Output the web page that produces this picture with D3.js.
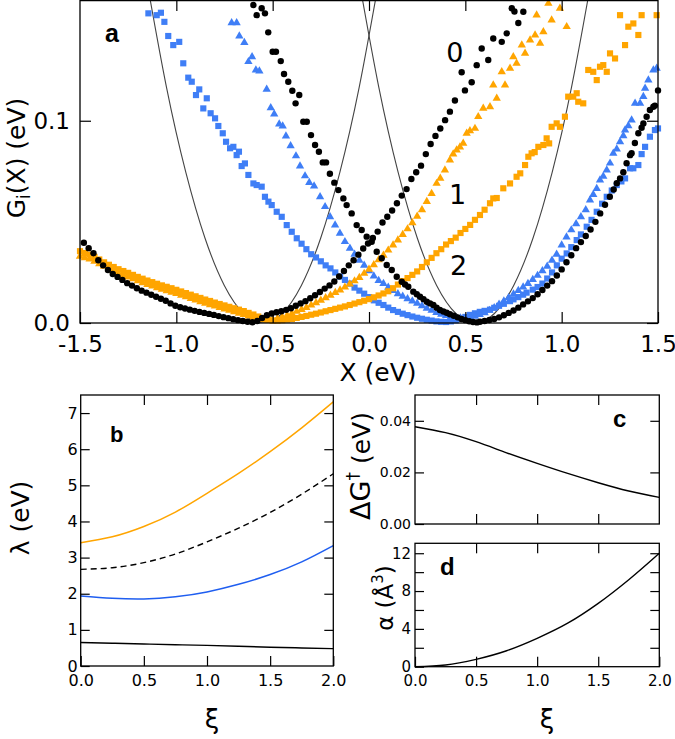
<!DOCTYPE html>
<html><head><meta charset="utf-8">
<script src="https://cdn.jsdelivr.net/npm/d3@7"></script>
<style>body{margin:0;background:#fff}svg{display:block}</style>
</head><body><svg id="chart" width="675" height="739"></svg>
<script>
// ---------- Panel a data: G_i(X) in eV ----------
const blackG1 = [[-1.48,.0397],[-1.455,.0370],[-1.43,.0345],[-1.405,.0310],[-1.38,.0285],[-1.355,.0262],[-1.33,.0242],[-1.305,.0228],[-1.28,.0213],[-1.255,.0197],[-1.23,.0185],[-1.205,.0172],[-1.18,.0160],[-1.155,.0150],[-1.13,.0140],[-1.105,.0130],[-1.08,.0120],[-1.055,.0110],[-1.03,.0097],[-1.005,.0085],[-0.98,.0078],[-0.955,.0072],[-0.93,.0066],[-0.905,.0060],[-0.88,.0055],[-0.855,.0050],[-0.83,.0045],[-0.805,.0040],[-0.78,.0034],[-0.755,.0029],[-0.73,.0024],[-0.705,.0019],[-0.68,.0014],[-0.655,.0010],[-0.63,.0006],[-0.605,.0004],[-0.58,.0010],[-0.555,.0025],[-0.53,.0038],[-0.505,.0047],[-0.48,.0053],[-0.455,.0058],[-0.43,.0065],[-0.405,.0073],[-0.38,.0085],[-0.355,.0097],[-0.33,.0108],[-0.305,.0122],[-0.28,.0137],[-0.255,.0153],[-0.23,.0170],[-0.205,.0186],[-0.18,.0205],[-0.155,.0230],[-0.13,.0257],[-0.105,.0285],[-0.08,.0310],[-0.055,.0338],[-0.03,.0368],[-0.005,.0393],[0.02,.0420],[0.045,.0452],[0.07,.0497],[0.095,.0525],[0.12,.0556],[0.145,.0592],[0.17,.0630],[0.195,.0662],[0.22,.0712],[0.245,.0745],[0.27,.0778],[0.295,.0835],[0.32,.0885],[0.345,.0925],[0.37,.0962],[0.395,.1003],[0.42,.1045],[0.446,.1100],[0.481,.1240],[0.498,.1150],[0.533,.1190],[0.559,.1275],[0.585,.1357],[0.619,.1300],[0.645,.1407],[0.689,.1390],[0.715,.1432],[0.741,.1556],[0.755,.1540],[0.775,.1483],[0.801,.1539]];

const blackG2 = [[-0.600,.1572],[-0.583,.1522],[-0.557,.1556],[-0.540,.1531],[-0.523,.1437],[-0.500,.1341],[-0.483,.1341],[-0.458,.1295],[-0.441,.1231],[-0.419,.1193],[-0.398,.1148],[-0.381,.1086],[-0.362,.1127],[-0.341,.0995],[-0.323,.0995],[-0.301,.0929],[-0.280,.0880],[-0.260,.0847],[-0.240,.0794],[-0.223,.0794],[-0.203,.0738],[-0.180,.0694],[-0.159,.0657],[-0.133,.0616],[-0.116,.0583],[-0.090,.0542],[-0.064,.0484],[-0.038,.0460],[-0.012,.0427],[0.014,.0402],[0.040,.0352],[0.066,.0320],[0.092,.0287],[0.118,.0262],[0.144,.0229],[0.170,.0204],[0.187,.0190],[0.204,.0179],[0.230,.0155],[0.248,.0142],[0.265,.0130],[0.283,.0118],[0.300,.0105],[0.317,.0097],[0.334,.0089],[0.351,.0076],[0.368,.0064],[0.386,.0057],[0.403,.0051],[0.42,.0043],[0.44,.0036],[0.46,.0028],[0.48,.0020],[0.50,.0014],[0.52,.0009],[0.54,.0005],[0.56,.0003],[0.576,.0006],[0.60,.0010],[0.625,.0015],[0.65,.0020],[0.675,.0028],[0.70,.0038],[0.725,.0050],[0.75,.0062],[0.775,.0076],[0.80,.0092],[0.825,.0107],[0.85,.0123],[0.875,.0142],[0.90,.0163],[0.925,.0185],[0.95,.0207],[0.975,.0235],[1.0,.0265],[1.025,.0300],[1.05,.0335],[1.075,.0370],[1.10,.0400],[1.125,.0430],[1.15,.0462],[1.175,.0500],[1.2,.0542],[1.225,.0585],[1.25,.0624],[1.27,.0660],[1.286,.0691],[1.303,.0715],[1.32,.0745],[1.337,.0790],[1.355,.0830],[1.363,.0839],[1.38,.0890],[1.398,.0938],[1.415,.0965],[1.424,.0987],[1.441,.1020],[1.458,.1053],[1.476,.1069],[1.484,.1075],[1.5,.1150]];

const orangeTri = [[-1.5,.0330],[-1.475,.0322],[-1.45,.0316],[-1.425,.0305],[-1.4,.0292],[-1.375,.0280],[-1.35,.0268],[-1.325,.0256],[-1.3,.0245],[-1.275,.0236],[-1.25,.0227],[-1.225,.0218],[-1.2,.0208],[-1.175,.0199],[-1.15,.0190],[-1.125,.0182],[-1.1,.0174],[-1.075,.0166],[-1.05,.0159],[-1.025,.0152],[-1.0,.0145],[-0.975,.0137],[-0.95,.0129],[-0.925,.0121],[-0.9,.0113],[-0.875,.0105],[-0.85,.0097],[-0.825,.0090],[-0.8,.0083],[-0.775,.0076],[-0.75,.0069],[-0.725,.0062],[-0.7,.0055],[-0.675,.0048],[-0.65,.0041],[-0.625,.0034],[-0.6,.0027],[-0.575,.0020],[-0.55,.0015],[-0.525,.0013],[-0.5,.0015],[-0.475,.0022],[-0.45,.0030],[-0.425,.0038],[-0.4,.0047],[-0.375,.0057],[-0.35,.0066],[-0.325,.0076],[-0.3,.0088],[-0.275,.0100],[-0.25,.0112],[-0.225,.0124],[-0.2,.0137],[-0.175,.0150],[-0.15,.0163],[-0.125,.0177],[-0.1,.0192],[-0.075,.0208],[-0.05,.0225],[-0.025,.0245],[0.0,.0265],[0.025,.0288],[0.05,.0312],[0.075,.0335],[0.1,.0360],[0.125,.0385],[0.15,.0410],[0.175,.0437],[0.2,.0465],[0.225,.0495],[0.25,.0527],[0.275,.0560],[0.3,.0600],[0.325,.0640],[0.351,.0690],[0.37,.0715],[0.394,.0756],[0.42,.0806],[0.437,.0835],[0.455,.0855],[0.472,.0870],[0.489,.0888],[0.507,.0938],[0.524,.0950],[0.550,.0962],[0.567,.1020],[0.593,.1061],[0.628,.1069],[0.645,.1176],[0.663,.1111],[0.689,.1242],[0.706,.1176],[0.732,.1259],[0.749,.1316],[0.766,.1284],[0.793,.1374],[0.810,.1333],[0.836,.1399],[0.862,.1424],[0.870,.1522],[0.888,.1383],[0.905,.1440],[0.931,.1580],[0.948,.1498],[0.991,.1556],[1.026,.1465]];

const orangeSq = [[-1.5,.0355],[-1.475,.0346],[-1.45,.0338],[-1.425,.0327],[-1.4,.0314],[-1.375,.0300],[-1.35,.0288],[-1.325,.0277],[-1.3,.0266],[-1.275,.0257],[-1.25,.0248],[-1.225,.0238],[-1.2,.0228],[-1.175,.0219],[-1.15,.0210],[-1.125,.0202],[-1.1,.0194],[-1.075,.0186],[-1.05,.0179],[-1.025,.0172],[-1.0,.0164],[-0.975,.0156],[-0.95,.0148],[-0.925,.0140],[-0.9,.0132],[-0.875,.0124],[-0.85,.0116],[-0.825,.0109],[-0.8,.0101],[-0.775,.0094],[-0.75,.0087],[-0.725,.0080],[-0.7,.0073],[-0.675,.0066],[-0.65,.0059],[-0.625,.0050],[-0.6,.0042],[-0.575,.0032],[-0.55,.0024],[-0.525,.0017],[-0.5,.0012],[-0.475,.0012],[-0.45,.0014],[-0.425,.0017],[-0.4,.0020],[-0.375,.0025],[-0.35,.0030],[-0.325,.0035],[-0.3,.0041],[-0.275,.0046],[-0.25,.0052],[-0.225,.0058],[-0.2,.0064],[-0.175,.0070],[-0.15,.0076],[-0.125,.0082],[-0.1,.0089],[-0.075,.0096],[-0.05,.0103],[-0.025,.0110],[0.0,.0118],[0.025,.0127],[0.05,.0136],[0.075,.0146],[0.1,.0157],[0.125,.0172],[0.15,.0190],[0.175,.0207],[0.2,.0222],[0.225,.0238],[0.25,.0255],[0.275,.0277],[0.3,.0300],[0.325,.0322],[0.35,.0345],[0.375,.0365],[0.4,.0388],[0.425,.0405],[0.45,.0422],[0.475,.0445],[0.5,.0465],[0.525,.0485],[0.55,.0510],[0.576,.0534],[0.6,.0560],[0.628,.0592],[0.645,.0616],[0.663,.0618],[0.697,.0666],[0.732,.0690],[0.766,.0723],[0.785,.0740],[0.810,.0781],[0.827,.0822],[0.844,.0839],[0.860,.0845],[0.879,.0871],[0.905,.0880],[0.922,.0913],[0.935,.0888],[0.948,.0970],[0.974,.0987],[0.991,.0970],[1.017,.1020],[1.034,.1119],[1.060,.1119],[1.078,.1136],[1.086,.1094],[1.112,.1086],[1.138,.1251],[1.164,.1242],[1.182,.1201],[1.199,.1267],[1.216,.1275],[1.234,.1242],[1.251,.1333],[1.277,.1308],[1.303,.1522],[1.329,.1374],[1.346,.1465],[1.372,.1481],[1.398,.1424],[1.415,.1522],[1.493,.1522]];

const blueTri = [[-0.713,.1484],[-0.687,.1484],[-0.673,.1419],[-0.647,.1387],[-0.626,.1292],[-0.607,.1316],[-0.587,.1251],[-0.569,.1246],[-0.531,.1155],[-0.510,.1064],[-0.492,.1033],[-0.466,.0984],[-0.448,.0974],[-0.431,.0924],[-0.407,.0876],[-0.379,.0826],[-0.358,.0776],[-0.332,.0727],[-0.310,.0694],[-0.285,.0677],[-0.254,.0624],[-0.228,.0575],[-0.202,.0525],[-0.176,.0484],[-0.151,.0443],[-0.125,.0402],[-0.099,.0369],[-0.075,.0340],[-0.05,.0310],[-0.025,.0285],[0.0,.0258],[0.025,.0232],[0.05,.0210],[0.075,.0195],[0.1,.0176],[0.125,.0160],[0.15,.0144],[0.175,.0132],[0.2,.0120],[0.225,.0108],[0.25,.0097],[0.275,.0085],[0.3,.0073],[0.325,.0062],[0.35,.0052],[0.375,.0043],[0.4,.0036],[0.425,.0030],[0.45,.0026],[0.475,.0024],[0.5,.0024],[0.525,.0027],[0.55,.0033],[0.575,.0041],[0.6,.0050],[0.625,.0062],[0.65,.0075],[0.675,.0092],[0.7,.0108],[0.725,.0125],[0.75,.0143],[0.775,.0160],[0.8,.0178],[0.825,.0195],[0.85,.0215],[0.875,.0235],[0.9,.0258],[0.925,.0280],[0.95,.0310],[0.974,.0340],[1.0,.0385],[1.025,.0425],[1.05,.0460],[1.075,.0490],[1.1,.0525],[1.125,.0560],[1.147,.0608],[1.164,.0635],[1.182,.0665],[1.199,.0707],[1.216,.0725],[1.234,.0756],[1.251,.0790],[1.268,.0839],[1.286,.0860],[1.303,.0896],[1.32,.0925],[1.329,.0954],[1.346,.0975],[1.363,.1003],[1.381,.1086],[1.407,.1086],[1.424,.1120],[1.433,.1160],[1.450,.1201],[1.476,.1251],[1.493,.1259]];

const blueSq = [[-1.145,.1531],[-1.102,.1522],[-1.080,.1534],[-1.062,.1489],[-1.042,.1419],[-1.016,.1374],[-0.985,.1390],[-0.964,.1284],[-0.938,.1213],[-0.920,.1193],[-0.898,.1127],[-0.881,.1155],[-0.860,.1061],[-0.842,.1111],[-0.822,.1037],[-0.799,.1012],[-0.782,.0974],[-0.759,.0938],[-0.742,.0896],[-0.721,.0864],[-0.704,.0871],[-0.687,.0830],[-0.675,.0847],[-0.661,.0776],[-0.644,.0789],[-0.626,.0732],[-0.600,.0690],[-0.583,.0682],[-0.557,.0674],[-0.540,.0624],[-0.522,.0600],[-0.505,.0583],[-0.479,.0550],[-0.453,.0525],[-0.427,.0484],[-0.401,.0451],[-0.375,.0419],[-0.35,.0392],[-0.325,.0365],[-0.3,.0340],[-0.275,.0324],[-0.25,.0305],[-0.225,.0285],[-0.2,.0270],[-0.175,.0250],[-0.15,.0230],[-0.125,.0213],[-0.1,.0195],[-0.075,.0175],[-0.05,.0160],[-0.025,.0145],[0.0,.0128],[0.025,.0112],[0.05,.0100],[0.075,.0089],[0.1,.0076],[0.125,.0064],[0.15,.0055],[0.175,.0046],[0.2,.0039],[0.225,.0032],[0.25,.0026],[0.275,.0021],[0.3,.0016],[0.325,.0012],[0.35,.0008],[0.375,.0006],[0.4,.0005],[0.425,.0008],[0.45,.0013],[0.475,.0021],[0.5,.0030],[0.524,.0040],[0.55,.0048],[0.575,.0055],[0.6,.0060],[0.628,.0066],[0.65,.0075],[0.675,.0085],[0.7,.0095],[0.732,.0108],[0.75,.0117],[0.775,.0128],[0.8,.0140],[0.818,.0150],[0.85,.0165],[0.875,.0178],[0.9,.0195],[0.925,.0220],[0.95,.0250],[0.975,.0285],[1.0,.0318],[1.026,.0344],[1.05,.0375],[1.078,.0410],[1.1,.0438],[1.13,.0476],[1.155,.0510],[1.182,.0550],[1.21,.0590],[1.234,.0624],[1.26,.0655],[1.286,.0682],[1.31,.0700],[1.329,.0715],[1.355,.0765],[1.372,.0765],[1.398,.0781],[1.415,.0835],[1.433,.0871],[1.458,.0921],[1.484,.0954],[1.5,.0962]];

// thin model parabolas
const parabolaLeft = [[-1.151,.168],[-1.051,.1165],[-0.951,.0746],[-0.851,.0419],[-0.751,.0186],[-0.651,.0047],[-0.551,0],[-0.451,.0047],[-0.351,.0186],[-0.251,.0419],[-0.151,.0746],[-0.051,.1165],[0.049,.168]];
const parabolaRight = [[-0.049,.168],[0.051,.1165],[0.151,.0746],[0.251,.0419],[0.351,.0186],[0.451,.0047],[0.551,0],[0.651,.0047],[0.751,.0186],[0.851,.0419],[0.951,.0746],[1.051,.1165],[1.151,.168]];

const xTicksA = [-1.5,-1.0,-0.5,0.0,0.5,1.0,1.5];
const yTicksA = [0.0,0.1];
const curveLabels = [["0",0.445,0.129],["1",0.46,0.059],["2",0.465,0.0237]];

// ---------- Panels b, c, d data ----------
const xi = [0,0.25,0.5,0.75,1.0,1.25,1.5,1.75,2.0];
const lambdaOrange = [3.41,3.575,3.86,4.26,4.78,5.33,5.93,6.59,7.31];
const lambdaDashed = [2.675,2.72,2.86,3.10,3.435,3.815,4.25,4.755,5.32];
const lambdaBlue   = [1.94,1.875,1.855,1.915,2.05,2.26,2.53,2.88,3.33];
const lambdaBlack  = [0.65,0.63,0.61,0.59,0.57,0.545,0.52,0.50,0.48];
const dGbarrier    = [0.0377,0.0354,0.0319,0.0276,0.0235,0.0196,0.0160,0.0128,0.0103];
const alphaPol     = [0,0.18,0.78,1.69,3.0,4.6,6.7,9.2,12.0];
const xTicksXi = [0,0.5,1.0,1.5,2.0];

// ---------- drawing ----------
const svg = d3.select("#chart");
const FONT = "DejaVu Sans, Verdana, sans-serif";
const BOLD = "Liberation Sans, Arial, sans-serif";

function styleAxis(g, fs){
  g.select(".domain").remove();
  g.attr("font-family", FONT).attr("font-size", fs);
  g.selectAll(".tick line").attr("stroke","#000").attr("stroke-width",1.2);
  g.selectAll(".tick text").attr("fill","#000");
}
function frame(x0,y0,x1,y1){
  svg.append("rect").attr("x",x0).attr("y",y0).attr("width",x1-x0).attr("height",y1-y0)
    .attr("fill","none").attr("stroke","#000").attr("stroke-width",1.3);
}

// Panel a
const xA = d3.scaleLinear().domain([-1.5,1.5]).range([80,658]);
const yA = d3.scaleLinear().domain([0,0.1597]).range([323,0]);
const fmt1 = d => d.toFixed(1);

svg.append("defs").append("clipPath").attr("id","clipA")
  .append("rect").attr("x",80).attr("y",0).attr("width",578).attr("height",323);

const lineA = d3.line().x(d=>xA(d[0])).y(d=>yA(d[1])).curve(d3.curveNatural);
[parabolaLeft, parabolaRight].forEach(p=>{
  svg.append("path").attr("d", lineA(p)).attr("fill","none")
    .attr("stroke","#444").attr("stroke-width",1.1).attr("clip-path","url(#clipA)");
});

const BLUE = "#3f7ef6", ORANGE = "#ffa500";
function squares(data, color){
  svg.append("g").selectAll("path").data(data).join("path")
    .attr("d", d3.symbol(d3.symbolSquare, 38))
    .attr("transform", d=>`translate(${xA(d[0])},${yA(d[1])})`).attr("fill", color);
}
function triangles(data, color){
  svg.append("g").selectAll("path").data(data).join("path")
    .attr("d", d3.symbol(d3.symbolTriangle, 30))
    .attr("transform", d=>`translate(${xA(d[0])},${yA(d[1])})`).attr("fill", color);
}
function circles(data, color){
  svg.append("g").selectAll("circle").data(data).join("circle")
    .attr("cx", d=>xA(d[0])).attr("cy", d=>yA(d[1])).attr("r",3.2).attr("fill", color);
}
squares(blueSq, BLUE);
triangles(blueTri, BLUE);
squares(orangeSq, ORANGE);
triangles(orangeTri, ORANGE);
circles(blackG1, "#000");
circles(blackG2, "#000");

frame(80,0.6,658,323);
svg.append("g").attr("transform","translate(0,323)")
  .call(d3.axisBottom(xA).tickValues(xTicksA).tickSize(-11).tickPadding(13).tickFormat(fmt1))
  .call(g=>styleAxis(g,23));
svg.append("g").attr("transform","translate(0,0)")
  .call(d3.axisTop(xA).tickValues(xTicksA.slice(1,-1)).tickSize(-11).tickFormat(""))
  .call(g=>styleAxis(g,23));
svg.append("g").attr("transform","translate(80,0)")
  .call(d3.axisLeft(yA).tickValues(yTicksA).tickSize(-11).tickPadding(10).tickFormat(fmt1))
  .call(g=>styleAxis(g,23));
svg.append("g").attr("transform","translate(658,0)")
  .call(d3.axisRight(yA).tickValues(yTicksA).tickSize(-11).tickFormat(""))
  .call(g=>styleAxis(g,23));

svg.append("text").attr("x",378).attr("y",381).attr("text-anchor","middle")
  .attr("font-family",FONT).attr("font-size",25).text("X (eV)");
const gy = svg.append("text").attr("transform","translate(25,158) rotate(-90)")
  .attr("text-anchor","middle").attr("font-family",FONT).attr("font-size",25);
gy.append("tspan").text("G");
gy.append("tspan").attr("dy",5).attr("font-size",17).text("i");
gy.append("tspan").attr("dy",-5).text("(X) (eV)");

svg.selectAll("text.cl").data(curveLabels).join("text").attr("class","cl")
  .attr("x",d=>xA(d[1])).attr("y",d=>yA(d[2])).attr("text-anchor","middle")
  .attr("font-family",FONT).attr("font-size",27).text(d=>d[0]);
svg.append("text").attr("x",105).attr("y",42).attr("font-family",BOLD)
  .attr("font-weight","bold").attr("font-size",25).text("a");

// Panel b
const xB = d3.scaleLinear().domain([0,2]).range([80.7,333.3]);
const yB = d3.scaleLinear().domain([0,7.5]).range([666,395]);
const lineB = (ys)=> d3.line().x((d,i)=>xB(xi[i])).y(d=>yB(d)).curve(d3.curveNatural)(ys);
svg.append("path").attr("d",lineB(lambdaOrange)).attr("fill","none").attr("stroke",ORANGE).attr("stroke-width",1.5);
svg.append("path").attr("d",lineB(lambdaDashed)).attr("fill","none").attr("stroke","#000").attr("stroke-width",1.4).attr("stroke-dasharray","6,4");
svg.append("path").attr("d",lineB(lambdaBlue)).attr("fill","none").attr("stroke","#1f5ef0").attr("stroke-width",1.5);
svg.append("path").attr("d",lineB(lambdaBlack)).attr("fill","none").attr("stroke","#000").attr("stroke-width",1.4);
frame(80.7,395,333.3,666);
svg.append("g").attr("transform","translate(0,666)")
  .call(d3.axisBottom(xB).tickValues(xTicksXi).tickSize(-10).tickPadding(9).tickFormat(fmt1))
  .call(g=>styleAxis(g,16));
svg.append("g").attr("transform","translate(0,395)")
  .call(d3.axisTop(xB).tickValues([0.5,1,1.5]).tickSize(-10).tickFormat(""))
  .call(g=>styleAxis(g,16));
svg.append("g").attr("transform","translate(80.7,0)")
  .call(d3.axisLeft(yB).tickValues([0,1,2,3,4,5,6,7]).tickSize(-9).tickPadding(3).tickFormat(d3.format("d")))
  .call(g=>styleAxis(g,16));
svg.append("g").attr("transform","translate(333.3,0)")
  .call(d3.axisRight(yB).tickValues([1,2,3,4,5,6,7]).tickSize(-9).tickFormat(""))
  .call(g=>styleAxis(g,16));
svg.append("text").attr("transform","translate(29,518) rotate(-90)").attr("text-anchor","middle")
  .attr("font-family",FONT).attr("font-size",25).text("λ (eV)");
svg.append("text").attr("x",212).attr("y",728).attr("text-anchor","middle")
  .attr("font-family",FONT).attr("font-size",26).text("ξ");
svg.append("text").attr("x",110).attr("y",442).attr("font-family",BOLD)
  .attr("font-weight","bold").attr("font-size",22).text("b");

// Panel c
const xC = d3.scaleLinear().domain([0,2]).range([415,659.3]);
const yC = d3.scaleLinear().domain([0,0.05]).range([524,395]);
svg.append("path").attr("d", d3.line().x((d,i)=>xC(xi[i])).y(d=>yC(d)).curve(d3.curveNatural)(dGbarrier))
  .attr("fill","none").attr("stroke","#000").attr("stroke-width",1.4);
frame(415,395,659.3,524);
svg.append("g").attr("transform","translate(0,524)")
  .call(d3.axisBottom(xC).tickValues([0.5,1,1.5]).tickSize(-10).tickFormat(""))
  .call(g=>styleAxis(g,14));
svg.append("g").attr("transform","translate(0,395)")
  .call(d3.axisTop(xC).tickValues([0.5,1,1.5]).tickSize(-10).tickFormat(""))
  .call(g=>styleAxis(g,14));
svg.append("g").attr("transform","translate(415,0)")
  .call(d3.axisLeft(yC).tickValues([0,0.02,0.04]).tickSize(-9).tickPadding(4).tickFormat(d3.format(".2f")))
  .call(g=>styleAxis(g,14));
svg.append("g").attr("transform","translate(659.3,0)")
  .call(d3.axisRight(yC).tickValues([0.02,0.04]).tickSize(-9).tickFormat(""))
  .call(g=>styleAxis(g,14));
const cy = svg.append("text").attr("transform","translate(370,466) rotate(-90)")
  .attr("text-anchor","middle").attr("font-family",FONT).attr("font-size",25);
cy.append("tspan").attr("font-size",27).text("ΔG");
cy.append("tspan").attr("dy",-11).attr("font-size",17).text("†");
cy.append("tspan").attr("dy",11).text(" (eV)");
svg.append("text").attr("x",613).attr("y",427).attr("font-family",BOLD)
  .attr("font-weight","bold").attr("font-size",24).text("c");

// Panel d
const yD = d3.scaleLinear().domain([0,13.05]).range([666.7,543.3]);
svg.append("path").attr("d", d3.line().x((d,i)=>xC(xi[i])).y(d=>yD(d)).curve(d3.curveMonotoneX)(alphaPol))
  .attr("fill","none").attr("stroke","#000").attr("stroke-width",1.4);
frame(415,543.3,659.3,666.7);
svg.append("g").attr("transform","translate(0,666.7)")
  .call(d3.axisBottom(xC).tickValues(xTicksXi).tickSize(-10).tickPadding(9).tickFormat(fmt1))
  .call(g=>styleAxis(g,15));
svg.append("g").attr("transform","translate(0,543.3)")
  .call(d3.axisTop(xC).tickValues([0.5,1,1.5]).tickSize(-10).tickFormat(""))
  .call(g=>styleAxis(g,15));
svg.append("g").attr("transform","translate(415,0)")
  .call(d3.axisLeft(yD).tickValues([0,2,4,6,8,10,12]).tickSize(-9).tickPadding(4).tickFormat(d=> d%4===0 ? d : ""))
  .call(g=>styleAxis(g,15));
svg.append("g").attr("transform","translate(659.3,0)")
  .call(d3.axisRight(yD).tickValues([2,4,6,8,10,12]).tickSize(-9).tickFormat(""))
  .call(g=>styleAxis(g,15));
const dy = svg.append("text").attr("transform","translate(393,598) rotate(-90)")
  .attr("text-anchor","middle").attr("font-family",FONT).attr("font-size",23);
dy.append("tspan").text("α (Å");
dy.append("tspan").attr("dy",-10).attr("font-size",15).text("3");
dy.append("tspan").attr("dy",10).text(")");
svg.append("text").attr("x",547).attr("y",728).attr("text-anchor","middle")
  .attr("font-family",FONT).attr("font-size",26).text("ξ");
svg.append("text").attr("x",440).attr("y",575).attr("font-family",BOLD)
  .attr("font-weight","bold").attr("font-size",24).text("d");
</script></body></html>
